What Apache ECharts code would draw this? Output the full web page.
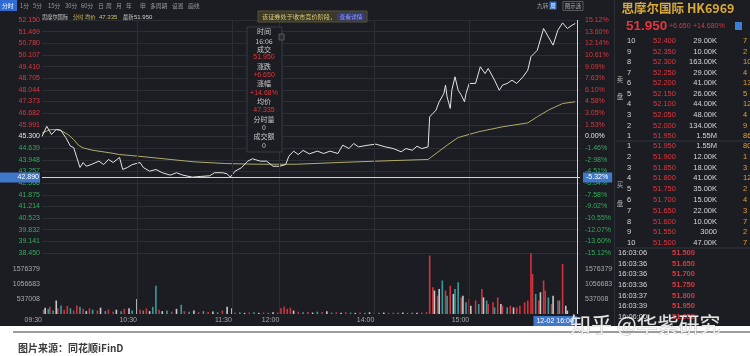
<!DOCTYPE html>
<html><head><meta charset="utf-8">
<script src="https://cdn.jsdelivr.net/npm/echarts@6/dist/echarts.min.js"></script>
<style>html,body{margin:0;padding:0;background:#fff;}#c{width:750px;height:356px;}</style>
</head><body><div id="c"></div>
<script>
// ---------- data ----------
const prevClose = 45.3;
const priceTicks = ['38.450','39.141','39.832','40.523','41.214','41.875','42.566','43.257','43.948','44.639','45.300','45.991','46.682','47.373','48.044','48.705','49.410','50.107','50.780','51.469','52.150'];
const pctTicks = ['-15.12%','-13.60%','-12.07%','-10.55%','-9.02%','-7.58%','-6.04%','-4.51%','-2.98%','-1.46%','0.00%','1.53%','3.05%','4.58%','6.10%','7.63%','9.09%','10.61%','12.14%','13.60%','15.12%'];
const timeTicks = [0,60,120,150,210,270];
const timeLabels = ['09:30','10:30','11:30','12:00','14:00','15:00'];
const volTicks = [537008,1056683,1576379];
const gridMinutes = [60,120,150,210,270];

// minutes since 09:30 (lunch break removed)
const priceT = [0,3,6,9,12,15,18,20,22,24,26,28,31,36,39,42,45,49,51,54,57,62,64,68,72,76,81,85,89,95,100,106,109,114,117,119,122,126,130,133,138,142,146,150,154,156,159,162,165,169,174,178,182,187,190,194,197,200,206,211,217,222,227,230,234,237,240,244,245,247,249,251,254,255,256,258,259,261,263,265,267,268,270,274,277,280,282,286,289,291,294,297,300,304,307,309,311,313,317,320,323,326,329,332,335,337];
const priceV = [45.30,45.90,45.42,45.71,45.65,45.24,44.73,44.65,44.06,43.48,43.77,43.55,43.65,43.85,43.65,43.95,43.77,44.07,43.36,43.48,43.65,43.77,43.48,43.26,43.36,43.17,43.03,43.17,43.03,42.91,42.95,42.99,43.17,43.17,43.11,42.91,43.26,43.46,43.85,43.99,43.85,43.85,43.55,43.55,43.65,44.14,44.44,44.24,44.48,44.28,44.44,44.30,44.44,44.30,44.79,44.59,44.89,44.69,44.79,44.85,44.69,44.59,44.40,44.59,44.49,44.73,44.59,44.69,46.46,46.65,46.85,47.34,47.83,48.32,47.63,46.95,48.02,48.81,48.02,47.73,47.34,47.83,48.42,48.42,49.40,49.00,49.30,48.61,48.02,48.32,48.42,48.61,48.42,48.81,49.20,49.99,50.18,50.37,51.65,51.16,50.67,51.55,51.98,51.65,51.84,51.95];
const avgT = [0,5,11,17,20,23,26,32,43,49,61,79,96,116,136,161,187,211,244,249,256,263,276,291,307,313,320,329,337];
const avgV = [45.50,45.70,45.71,45.38,45.12,44.79,44.63,44.49,44.34,44.24,44.14,43.97,43.81,43.71,43.67,43.67,43.77,43.85,43.95,44.30,44.79,45.24,45.58,45.87,46.10,46.46,46.85,47.24,47.34];

const volT = [1,2,4,5,7,9,10,12,14,16,18,20,22,24,26,28,30,32,35,37,40,42,45,47,50,52,55,57,60,62,64,66,68,70,72,74,76,79,82,85,88,90,93,96,99,102,105,108,111,114,117,120,122,125,128,131,134,137,140,143,146,149,
 151,153,155,157,159,162,165,168,171,174,177,180,183,186,189,192,195,198,201,204,207,210,213,216,219,222,225,228,231,234,237,240,243,
 245,247,248,250,251,253,255,256,258,260,261,263,265,266,268,270,271,274,276,278,279,281,282,285,286,288,290,291,294,296,298,300,302,305,307,309,310,312,314,315,317,318,320,322,323,326,327,329,331,332];
const volK = [150,220,180,250,120,470,200,300,150,280,200,120,300,250,180,100,200,150,120,220,100,160,80,150,100,180,200,120,520,150,120,200,100,250,990,150,100,120,80,180,320,100,80,120,60,100,70,90,60,120,250,200,50,60,40,50,60,40,50,40,60,50,
 200,250,180,220,120,80,60,70,50,80,60,100,50,60,40,60,50,40,50,40,60,50,40,50,40,50,40,50,40,50,40,50,60,
 2040,930,820,640,870,1170,820,640,990,700,870,1110,580,640,410,520,290,470,350,870,580,470,350,410,230,580,350,290,230,290,230,230,290,410,470,2120,1400,700,470,760,1170,820,580,350,640,470,470,1750,290,120];
const volDir = [1,0,-1,1,-1,0,1,-1,1,1,-1,1,1,-1,1,0,1,-1,1,0,-1,1,1,0,-1,1,0,-1,0,1,-1,1,0,-1,-1,1,0,-1,1,0,-1,1,-1,0,1,-1,1,0,-1,1,0,0,1,-1,0,1,-1,0,1,-1,0,1,
 1,1,1,1,0,1,-1,1,0,-1,1,0,-1,1,0,1,-1,0,1,-1,0,1,-1,0,1,1,-1,0,1,-1,0,1,1,
 1,1,0,1,0,-1,1,-1,1,0,-1,-1,1,0,-1,1,0,1,-1,1,0,-1,1,1,-1,1,0,1,-1,1,0,1,1,1,1,1,1,-1,1,0,1,1,-1,1,0,1,-1,1,0,0];

const crossT = 338, crossPrice = 42.89, crossPriceText = '42.890', crossPctText = '-5.32%', crossTimeText = '12-02 16:06';

const sellLevels = ['10','9','8','7','6','5','4','3','2','1'];
const sellPrices = ['52.400','52.350','52.300','52.250','52.200','52.150','52.100','52.050','52.000','51.950'];
const sellVols = ['29.00K','10.00K','163.00K','29.00K','41.00K','26.00K','44.00K','48.00K','134.00K','1.55M'];
const sellCounts = ['7','2','10','4','13','5','12','4','9','86'];
const buyLevels = ['1','2','3','4','5','6','7','8','9','10'];
const buyPrices = ['51.950','51.900','51.850','51.800','51.750','51.700','51.650','51.600','51.550','51.500'];
const buyVols = ['1.55M','12.00K','18.00K','41.00K','35.00K','15.00K','22.00K','10.00K','3000','47.00K'];
const buyCounts = ['80','1','3','12','2','4','3','7','2','7'];
const tickTimes = ['16:03:06','16:03:36','16:03:36','16:03:36','16:03:37','16:03:39','16:06:00'];
const tickPrices = ['51.500','51.650','51.700','51.750','51.800','51.950','51.950'];
const toolbar = ['分时','1分','5分','15分','30分','60分','日','周','月','年','申','多周期','设置','画线'];
const toolbarX = [2,20,33,48,65,81,98,106,116,126,140,150,172,188];
const tipLines = ['时间','16:06','成交','51.950','涨跌','+6.650','涨幅','+14.68%','均价','47.335','分时量','0','成交额','0'];

// ---------- helpers ----------
const RED = '#e0363e', GREEN = '#2fae5a', BG = '#1b1d22', GRID = '#2b2e35';
const pct = p => (p / prevClose - 1) * 100;
const NUM = '"Liberation Sans","Noto Sans CJK SC",sans-serif';
const CJK = '"Noto Sans CJK SC",sans-serif';
function T(x, y, text, fill, size, o) {
  o = o || {};
  const al = o.align || 'left';
  return { type: 'text', x: x, y: y, silent: true, z: o.z || 100,
    style: { text: text, fill: fill, font: (o.weight || 'normal') + ' ' + size + 'px ' + (o.family || NUM),
      textAlign: al, align: al, textVerticalAlign: 'middle', verticalAlign: 'middle',
      stroke: o.stroke, lineWidth: o.lineWidth || 0 } };
}
function R(x, y, w, h, fill, stroke, z) {
  return { type: 'rect', silent: true, z: z || 99, shape: { x: x, y: y, width: w, height: h },
    style: { fill: fill, stroke: stroke || null, lineWidth: stroke ? 1 : 0 } };
}
function L(x1, y1, x2, y2, color, w, z) {
  return { type: 'line', silent: true, z: z || 99, shape: { x1: x1, y1: y1, x2: x2, y2: y2 },
    style: { stroke: color, lineWidth: w || 1 } };
}

const g = [];
// toolbar
g.push(R(0, 0, 17, 11, '#2f6bd1'));
toolbar.forEach((t, i) => g.push(T(toolbarX[i], 6, t, i === 0 ? '#ffffff' : '#9a9a9a', 5.8, { family: CJK })));
// title row
g.push(T(42, 17, '思摩尔国际', '#cfcfcf', 5.2, { family: CJK }));
g.push(T(73, 17, '分时', '#d6c060', 5.2, { family: CJK }));
g.push(T(85, 17, '均价', '#d6c060', 5.2, { family: CJK }));
g.push(T(99, 17, '47.335', '#d6c060', 6));
g.push(T(123, 17, '最新', '#cfcfcf', 5.2, { family: CJK }));
g.push(T(134, 17, '51.950', '#cfcfcf', 6));
// notice box
g.push(R(258, 11, 109, 11, '#3b3a28', '#55533a'));
g.push(T(262, 16.5, '该证券处于收市竞价阶段，', '#dccb7a', 6.2, { family: CJK }));
g.push(R(337, 12.5, 28, 8, '#363c70'));
g.push(T(351, 16.5, '查看详情', '#8f9cff', 5.8, { family: CJK, align: 'center' }));
// top-right small controls
g.push(T(537, 6, '九转', '#a0a0a0', 5.8, { family: CJK }));
g.push(R(549.5, 1.5, 7, 8, '#2f6bd1'));
g.push(T(553, 6, '周', '#ffffff', 5.5, { family: CJK, align: 'center' }));
g.push(R(563, 1.5, 20, 9, null, '#55585f'));
g.push(T(573, 6, '图示选', '#b0b0b0', 5.5, { family: CJK, align: 'center' }));
// tooltip box
g.push(R(247, 27, 35, 125, BG, '#3a3d45'));
g.push(R(279, 34, 5, 6, '#2a2c32', '#55585f'));
const tipY = [31, 41, 49, 57, 66, 75, 83, 93, 101, 110, 119, 127, 136, 145];
tipLines.forEach((t, i) => {
  const red = (i === 3 || i === 5 || i === 7 || i === 9);
  g.push(T(264, tipY[i], t, red ? RED : '#c8c8c8', 7, { family: red ? NUM : CJK, align: 'center' }));
});
// right panel
g.push(L(614.5, 0, 614.5, 326, GRID));
g.push(T(678, 8, '思摩尔国际 HK6969', '#d9aa3a', 12.5, { family: CJK, weight: 'bold', align: 'center' }));
g.push(T(626, 26, '51.950', RED, 13.5, { weight: 'bold' }));
g.push(T(669, 26, '+6.650', RED, 7));
g.push(T(693, 26, '+14.680%', RED, 7));
g.push(R(735, 22, 7, 8, '#3d7fd6'));
g.push(T(620, 80, '卖', '#b0b0b0', 6.5, { family: CJK, align: 'center' }));
g.push(T(620, 97, '盘', '#b0b0b0', 6.5, { family: CJK, align: 'center' }));
g.push(T(620, 185, '买', '#b0b0b0', 6.5, { family: CJK, align: 'center' }));
g.push(T(620, 204, '盘', '#b0b0b0', 6.5, { family: CJK, align: 'center' }));
sellLevels.forEach((lv, i) => {
  const y = 41 + i * 10.56;
  g.push(T(627, y, lv, '#d6d6d6', 7.5));
  g.push(T(653, y, sellPrices[i], RED, 7.5));
  g.push(T(717, y, sellVols[i], '#d6d6d6', 7.5, { align: 'right' }));
  g.push(T(743, y, sellCounts[i], '#e3a032', 7.5));
});
g.push(L(616, 141, 750, 141, '#34373f'));
buyLevels.forEach((lv, i) => {
  const y = 146 + i * 10.8;
  g.push(T(627, y, lv, '#d6d6d6', 7.5));
  g.push(T(653, y, buyPrices[i], RED, 7.5));
  g.push(T(717, y, buyVols[i], '#d6d6d6', 7.5, { align: 'right' }));
  g.push(T(743, y, buyCounts[i], '#e3a032', 7.5));
});
g.push(L(616, 248, 750, 248, '#34373f'));
tickTimes.forEach((t, i) => {
  const y = 253 + i * 10.67;
  g.push(T(618, y, t, '#d6d6d6', 7.5));
  g.push(T(672, y, tickPrices[i], RED, 7.5, { weight: 'bold' }));
});
// bottom white strip, caption and watermark
g.push(R(0, 326, 750, 30, '#ffffff', null, 150));
g.push(L(13, 332, 750, 332, '#9c9c9c', 2, 151));
g.push(T(18, 348, '图片来源：同花顺iFinD', '#3a3a3a', 10, { family: CJK, weight: 'bold', z: 152 }));
g.push(T(570, 324, '知乎 @华紫研究', 'rgba(248,248,248,0.9)', 21, { family: CJK, z: 160, stroke: 'rgba(110,110,110,0.5)', lineWidth: 0.7 }));

// ---------- chart ----------
const chart = echarts.init(document.getElementById('c'), null, { renderer: 'canvas' });
const priceLabel = v => priceTicks[Math.round((v + 15.12) / 1.512)] || '';
const pctLabel = v => pctTicks[Math.round((v + 15.12) / 1.512)] || '';
const lblColor = v => v > 0.01 ? RED : (v < -0.01 ? GREEN : '#e6e6e6');
const volColor = d => d > 0 ? '#d0343d' : (d < 0 ? '#3a9c9a' : '#c9c9c9');
const blueLbl = { show: true, backgroundColor: '#3f78c8', color: '#ffffff', fontSize: 7, fontFamily: NUM };

chart.setOption({
  backgroundColor: BG,
  animation: false,
  grid: [
    { left: 42, top: 20, width: 538, height: 233 },
    { left: 42, top: 253, width: 538, height: 61 }
  ],
  xAxis: [
    { type: 'value', gridIndex: 0, min: 0, max: 340, axisLabel: { show: false }, axisTick: { show: false }, axisLine: { show: false }, splitLine: { show: false } },
    { type: 'value', gridIndex: 1, min: 0, max: 340, axisTick: { show: false }, axisLine: { show: false }, splitLine: { show: false },
      axisLabel: { customValues: timeTicks, formatter: v => timeLabels[timeTicks.indexOf(v)] || '', align: 'right', color: '#a8a8a8', fontSize: 7, fontFamily: NUM, margin: 3 } }
  ],
  yAxis: [
    { type: 'value', gridIndex: 0, position: 'left', min: -15.12, max: 15.12, interval: 1.512,
      axisLine: { show: false }, axisTick: { show: false },
      splitLine: { show: true, lineStyle: { color: GRID, width: 1 } },
      axisLabel: { formatter: priceLabel, color: lblColor, fontSize: 7, fontFamily: NUM, margin: 2, showMinLabel: true, showMaxLabel: true } },
    { type: 'value', gridIndex: 0, position: 'right', min: -15.12, max: 15.12, interval: 1.512,
      axisLine: { show: false }, axisTick: { show: false }, splitLine: { show: false },
      axisLabel: { formatter: pctLabel, color: lblColor, fontSize: 7, fontFamily: NUM, margin: 5, showMinLabel: true, showMaxLabel: true } },
    { type: 'value', gridIndex: 1, position: 'left', min: 0, max: 2130000,
      axisLine: { show: false }, axisTick: { show: false }, splitLine: { show: false },
      axisLabel: { customValues: volTicks, formatter: v => String(v), color: '#a8a8a8', fontSize: 7, fontFamily: NUM, margin: 2 } },
    { type: 'value', gridIndex: 1, position: 'right', min: 0, max: 2130000,
      axisLine: { show: false }, axisTick: { show: false }, splitLine: { show: false },
      axisLabel: { customValues: volTicks, formatter: v => String(v), color: '#a8a8a8', fontSize: 7, fontFamily: NUM, margin: 5 } }
  ],
  graphic: { elements: g },
  series: [
    { name: 'avg', type: 'line', xAxisIndex: 0, yAxisIndex: 0, showSymbol: false, smooth: false,
      lineStyle: { color: '#b1ab6c', width: 1 }, z: 3,
      data: avgT.map((t, i) => [t, pct(avgV[i])]),
      markLine: { silent: true, symbol: 'none', label: { show: false }, lineStyle: { color: GRID, width: 1, type: 'solid' },
        data: gridMinutes.map(m => ({ xAxis: m })) } },
    { name: 'price', type: 'line', xAxisIndex: 0, yAxisIndex: 0, showSymbol: false,
      lineStyle: { color: '#e4e4e4', width: 1 }, z: 4,
      data: priceT.map((t, i) => [t, pct(priceV[i])]),
      markLine: { silent: true, symbol: 'none', lineStyle: { color: '#d4d4d4', width: 1, type: 'solid' },
        data: [
          { yAxis: pct(crossPrice), label: Object.assign({}, blueLbl, { position: 'start', formatter: crossPriceText, padding: [2, 1, 1, 18], distance: 2 }) },
          { yAxis: pct(crossPrice), label: Object.assign({}, blueLbl, { position: 'end', formatter: crossPctText, padding: [2, 4, 1, 3], distance: 3 }) },
          { xAxis: crossT, label: { show: false } }
        ] } },
    { name: 'vol', type: 'bar', xAxisIndex: 1, yAxisIndex: 2, barWidth: 1.6, z: 3,
      data: volT.map((t, i) => ({ value: [t, volK[i] * 1000], itemStyle: { color: volColor(volDir[i]) } })),
      markLine: { silent: true, symbol: 'none', lineStyle: { color: GRID, width: 1, type: 'solid' },
        data: gridMinutes.map(m => ({ xAxis: m, label: { show: false } })).concat([
          { xAxis: crossT, lineStyle: { color: '#d4d4d4' }, label: Object.assign({}, blueLbl, { position: 'start', formatter: crossTimeText, padding: [2, 3, 1, 3], distance: 2, align: 'right' }) }
        ]) } }
  ]
});
</script></body></html>
